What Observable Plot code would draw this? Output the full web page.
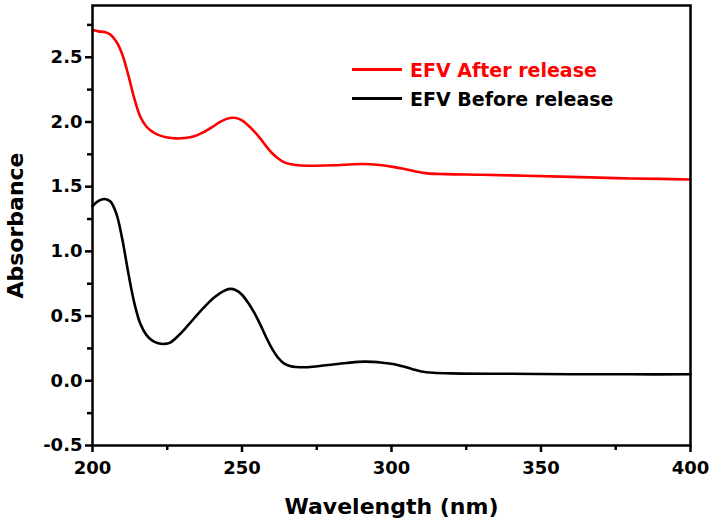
<!DOCTYPE html>
<html>
<head>
<meta charset="utf-8">
<script src="https://cdn.jsdelivr.net/npm/d3@7"></script>
<script src="https://cdn.jsdelivr.net/npm/@observablehq/plot@0.6"></script>
<style>
  html, body { margin: 0; padding: 0; background: #fff; }
  #wrap { position: relative; width: 711px; height: 528px; }
  .leg { position: absolute; left: 352px; font-family: "DejaVu Sans", sans-serif; font-weight: bold; font-size: 19px; white-space: nowrap; }
  .leg .sw { display: inline-block; width: 50px; height: 0; border-top: 3px solid; vertical-align: middle; margin-right: 8px; }
  .leg .lab { vertical-align: middle; }
</style>
</head>
<body>
<div id="wrap"></div>
<script>
// Wavelength (nm) and absorbance values
const afterWavelength = [200,202,204,206,208,210,212,214,216,218,220,222,225,228,231,234,237,240,243,246,248,250,252,254,256,258,260,262,264,266,268,272,280,290,296,300,304,308,312,318,330,345,360,375,390,400];
const afterAbsorbance = [2.71,2.70,2.695,2.675,2.62,2.52,2.36,2.18,2.04,1.965,1.925,1.90,1.88,1.873,1.876,1.89,1.92,1.96,2.005,2.03,2.03,2.012,1.975,1.93,1.875,1.815,1.76,1.72,1.69,1.675,1.667,1.662,1.665,1.675,1.668,1.655,1.638,1.618,1.603,1.597,1.592,1.585,1.576,1.566,1.56,1.555];

const beforeWavelength = [200,202,204,206,208,210,212,214,216,218,220,222,224,226,229,232,235,238,241,244,246,248,250,252,254,256,258,260,262,264,266,268,272,278,285,291,297,301,304,307,310,314,320,340,360,380,400];
const beforeAbsorbance = [1.35,1.39,1.405,1.385,1.29,1.09,0.83,0.60,0.44,0.355,0.31,0.29,0.285,0.295,0.355,0.43,0.51,0.585,0.65,0.695,0.71,0.70,0.665,0.605,0.53,0.44,0.34,0.25,0.18,0.135,0.115,0.107,0.105,0.12,0.138,0.148,0.14,0.128,0.11,0.09,0.072,0.062,0.057,0.054,0.051,0.05,0.05];

const seriesNames = ["EFV After release", "EFV Before release"];
const seriesColors = ["#ff0000", "#000000"];

const xMajorTicks = [200, 250, 300, 350, 400];
const xMinorTicks = [225, 275, 325, 375];
const yMajorTicks = [-0.5, 0, 0.5, 1.0, 1.5, 2.0, 2.5];
const yMinorTicks = [-0.25, 0.25, 0.75, 1.25, 1.75, 2.25, 2.75];

const xLabel = "Wavelength (nm)";
const yLabel = "Absorbance";

const afterData = afterWavelength.map((w, i) => ({w, a: afterAbsorbance[i]}));
const beforeData = beforeWavelength.map((w, i) => ({w, a: beforeAbsorbance[i]}));

const font = "DejaVu Sans, sans-serif";

const chart = Plot.plot({
  width: 711,
  height: 528,
  marginLeft: 92,
  marginRight: 21,
  marginTop: 5,
  marginBottom: 83,
  style: { fontFamily: font, fontWeight: "bold", fontSize: "18px", color: "#000", background: "#fff" },
  x: { domain: [200, 400] },
  y: { domain: [-0.5, 2.9] },
  marks: [
    Plot.axisX(xMinorTicks, { tickSize: 5, strokeWidth: 2.5, text: null, label: null }),
    Plot.axisX(xMajorTicks, { tickSize: 7, strokeWidth: 2.5, tickPadding: 9, tickFormat: d => String(d), label: null, fontSize: 18, fontWeight: "bold", fill: "#000" }),
    Plot.axisY(yMinorTicks, { tickSize: 5, strokeWidth: 2.5, text: null, label: null }),
    Plot.axisY(yMajorTicks, { tickSize: 7, strokeWidth: 2.5, tickPadding: 3, tickFormat: d => d.toFixed(1), label: null, fontSize: 18, fontWeight: "bold", fill: "#000" }),
    Plot.line(afterData, { x: "w", y: "a", stroke: seriesColors[0], strokeWidth: 2.6, curve: "catmull-rom" }),
    Plot.line(beforeData, { x: "w", y: "a", stroke: seriesColors[1], strokeWidth: 2.6, curve: "catmull-rom" }),
    Plot.frame({ stroke: "#000", strokeWidth: 2.5 }),
    Plot.text([xLabel], { frameAnchor: "bottom", dy: 61, lineAnchor: "middle", textAnchor: "middle", fontSize: 22, fontWeight: "bold", fill: "#000" }),
    Plot.text([yLabel], { frameAnchor: "left", dx: -77, rotate: -90, lineAnchor: "middle", textAnchor: "middle", fontSize: 22, fontWeight: "bold", fill: "#000" })
  ]
});

const wrap = document.getElementById("wrap");
wrap.appendChild(chart);

const legendTops = [57, 86];
seriesNames.forEach((name, i) => {
  const div = document.createElement("div");
  div.className = "leg";
  div.style.top = legendTops[i] + "px";
  div.style.color = seriesColors[i];
  div.innerHTML = `<span class="sw" style="border-color:${seriesColors[i]}"></span><span class="lab"></span>`;
  div.querySelector(".lab").textContent = name;
  wrap.appendChild(div);
});
</script>
</body>
</html>
